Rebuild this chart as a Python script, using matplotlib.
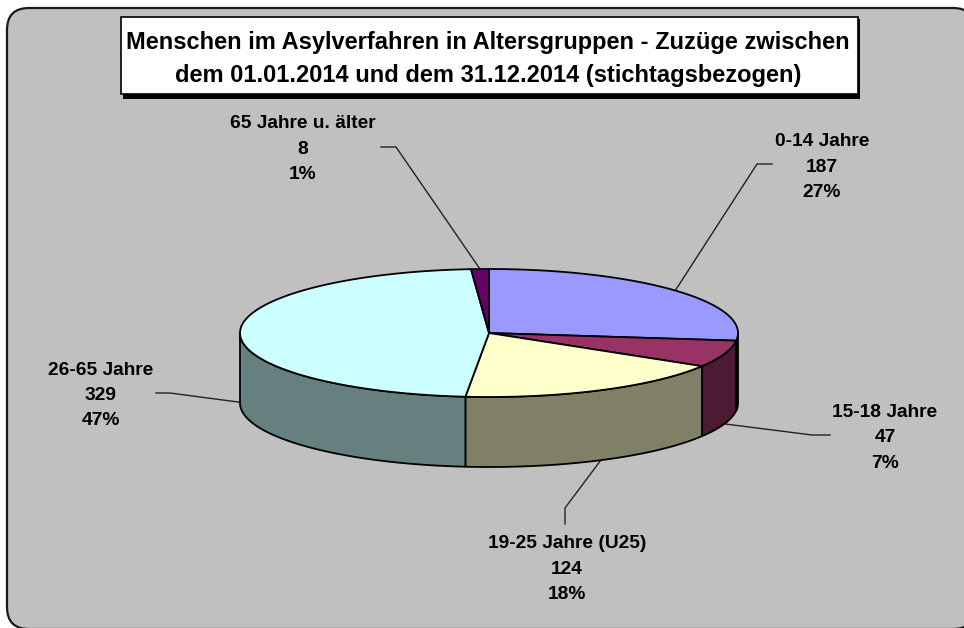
import numpy as np
import matplotlib
matplotlib.use("Agg")
import matplotlib.pyplot as plt
from matplotlib.patches import FancyBboxPatch, Polygon, Rectangle

plt.rcParams["font.family"] = ["Liberation Sans", "DejaVu Sans"]

# data
categories = ["0-14 Jahre", "15-18 Jahre", "19-25 Jahre (U25)", "26-65 Jahre", "65 Jahre u. älter"]
values = [187, 47, 124, 329, 8]
percent_labels = ["27%", "7%", "18%", "47%", "1%"]
top_colors = ["#9999FF", "#993366", "#FFFFCC", "#CCFFFF", "#660066"]
side_colors = ["#666699", "#4D1A33", "#808066", "#668080", "#330033"]

title = "Menschen im Asylverfahren in Altersgruppen - Zuzüge zwischen\ndem 01.01.2014 und dem 31.12.2014 (stichtagsbezogen)"

# pie geometry in pixels
cx, cy = 489, 333
rx, ry = 249, 64
depth = 70

# label centre and leader elbow per category
label_pos = [(822, 167), (885, 438), (567, 569), (100.5, 395.5), (303, 149)]
elbows = [[(757, 164), (772, 164)], [(812, 435), (830, 435)], [(565, 508), (565, 524)],
          [(170, 393), (156, 393)], [(396, 147), (381, 147)]]


def rim(theta):
    # theta clockwise from 12 o'clock, degrees
    t = np.radians(theta)
    return cx + rx * np.sin(t), cy - ry * np.cos(t)


fig = plt.figure(figsize=(9.64, 6.28), dpi=100, facecolor="white")
ax = fig.add_axes([0, 0, 1, 1])
ax.set_xlim(0, 964)
ax.set_ylim(628, 0)
ax.axis("off")

ax.add_patch(FancyBboxPatch((7, 8), 968, 621, boxstyle="round,pad=0,rounding_size=22",
                            fc="#C0C0C0", ec="#1a1a1a", lw=1.6, zorder=0.5))

# title box with shadow
ax.add_patch(Rectangle((123, 19), 737, 80, fc="black", ec="none", zorder=1))
ax.add_patch(Rectangle((120.5, 16.5), 737, 77, fc="white", ec="black", lw=1.2, zorder=2))
ax.text(488, 59, title, ha="center", va="center", fontsize=17, fontweight="bold",
        linespacing=1.55, color="black", zorder=3)

shares = np.array(values) / sum(values) * 360
ends = np.cumsum(shares)
starts = ends - shares

# side walls, only the front half of the rim is visible
for a, b, col in zip(starts, ends, side_colors):
    lo, hi = max(a, 90), min(b, 270)
    if lo >= hi:
        continue
    th = np.linspace(lo, hi, 80)
    x, y = rim(th)
    pts = np.r_[np.c_[x, y], np.c_[x[::-1], y[::-1] + depth]]
    ax.add_patch(Polygon(pts, closed=True, fc=col, ec="black", lw=1.3, joinstyle="round", zorder=4))

# top faces
for a, b, col in zip(starts, ends, top_colors):
    th = np.linspace(a, b, 120)
    x, y = rim(th)
    pts = np.r_[[[cx, cy]], np.c_[x, y]]
    ax.add_patch(Polygon(pts, closed=True, fc=col, ec="black", lw=1.3, joinstyle="round", zorder=5))

# leader lines and labels
mids = (starts + ends) / 2
for i, cat in enumerate(categories):
    x, y = rim(mids[i])
    if np.cos(np.radians(mids[i])) < 0.02:
        y += depth
    ex, ey = zip(*elbows[i])
    ax.plot([x, *ex], [y, *ey], color="#222222", lw=1.0, zorder=3.5)
    ax.text(label_pos[i][0], label_pos[i][1], f"{cat}\n{values[i]}\n{percent_labels[i]}",
            ha="center", va="center", fontsize=13.8, fontweight="bold", linespacing=1.62,
            color="black", zorder=6)

fig.savefig("out.png", dpi=100)
